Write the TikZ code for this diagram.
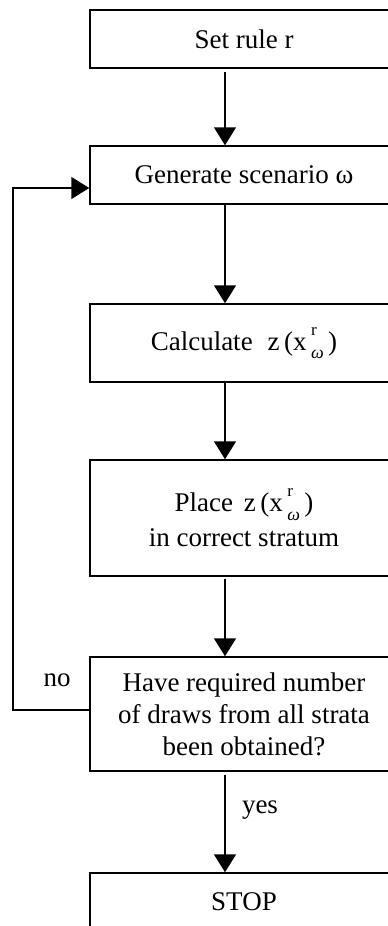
\documentclass[tikz,border=0pt]{standalone}
\usepackage{fontspec}
\setmainfont{Liberation Serif}
\usetikzlibrary{arrows.meta}
\newcommand{\zxr}{z\,(x\,\makebox[0pt][l]{\raisebox{0.55em}{\fontsize{17}{17}\selectfont r}}\raisebox{-0.32em}{\fontsize{18}{18}\selectfont\itshape ω}\,)}
\begin{document}
\begin{tikzpicture}[x=1pt,y=-1pt,
  box/.style={draw,line width=1.5pt,minimum width=308pt,inner sep=0pt,align=center,
    font=\fontsize{27}{32}\selectfont},
  arr/.style={line width=1.5pt,-{Triangle[width=22pt,length=18pt]}},
  lbl/.style={font=\fontsize{27}{32}\selectfont,inner sep=0pt}]
\useasboundingbox (0,0) rectangle (388,926);
\clip (0,0) rectangle (388,926);
\coordinate (ax) at (225,0);
\node[box,minimum height=58pt] (b1) at (244,39) {Set rule r};
\node[box,minimum height=58pt] (b2) at (244,175) {Generate scenario ω};
\node[box,minimum height=78pt] (b3) at (244,343) {Calculate\hspace{0.55em}\zxr};
\node[box,minimum height=116pt] (b4) at (244,518) {Place\hspace{0.4em}\zxr\\[3pt] in correct stratum};
\node[box,minimum height=114pt] (b5) at (244,714) {Have required number\\of draws from all strata\\been obtained?};
\node[box,minimum height=58pt] (b6) at (244,902) {STOP};
\draw[arr,shorten <=3pt] (b1.south -| ax) -- (b2.north -| ax);
\draw[arr] (b2.south -| ax) -- (b3.north -| ax);
\draw[arr] (b3.south -| ax) -- (b4.north -| ax);
\draw[arr,shorten <=2pt] (b4.south -| ax) -- (b5.north -| ax);
\draw[arr,shorten <=3pt] (b5.south -| ax) -- (b6.north -| ax);
\coordinate (lp) at (13,0);
\coordinate (inb2) at ([yshift=-13pt]b2.west);
\coordinate (outb5) at ([yshift=4pt]b5.west);
\draw[arr] (outb5) -| (lp |- inb2) -- (inb2);
\node[lbl] (no) at (57,680) {no};
\node[lbl] (yes) at (260,810) {yes};
\end{tikzpicture}
\end{document}
